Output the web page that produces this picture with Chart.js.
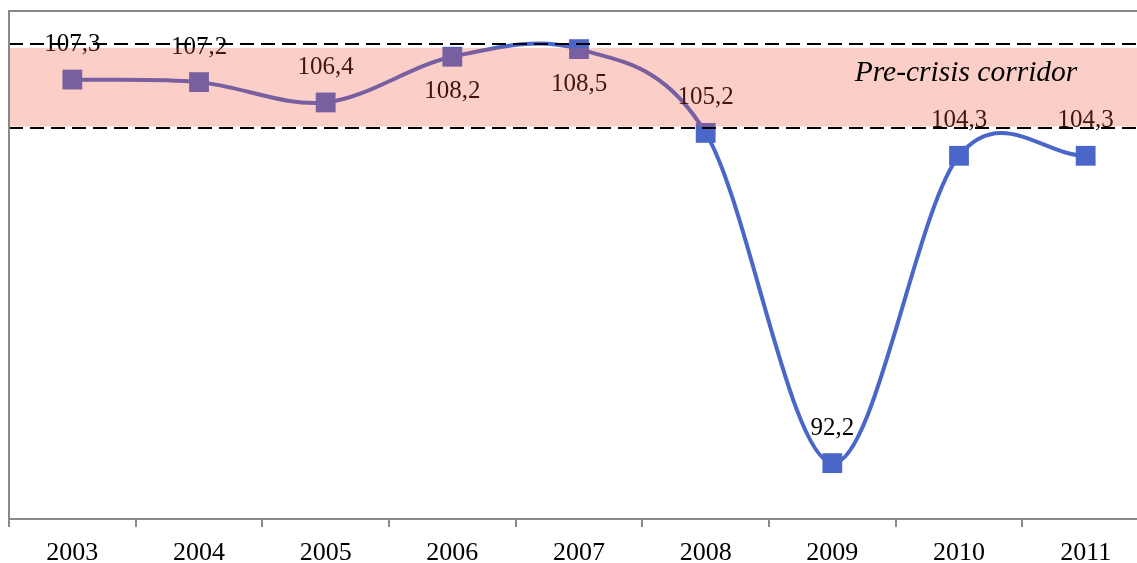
<!DOCTYPE html>
<html>
<head>
<meta charset="utf-8">
<script src="https://cdn.jsdelivr.net/npm/chart.js@4.4.1/dist/chart.umd.min.js"></script>
<style>
  html, body { margin: 0; padding: 0; background: #ffffff; overflow: hidden; width: 1137px; height: 563px; }
  canvas { display: block; }
</style>
</head>
<body>
<canvas id="chart" width="1149" height="579"></canvas>
<script>
// Annual index values, 2003–2011
const years = ['2003', '2004', '2005', '2006', '2007', '2008', '2009', '2010', '2011'];
const indexValues = [107.3, 107.2, 106.4, 108.2, 108.5, 105.2, 92.2, 104.3, 104.3];
// -1 puts a value label above its point, +1 below it
const labelSides = [-1, -1, -1, 1, 1, -1, -1, -1, -1];
// Pre-crisis corridor: shaded band and its two dashed bounds
const corridorBand = [105.45, 108.55];
const corridorBounds = [105.4, 108.72];
const corridorTitle = 'Pre-crisis corridor';

const LINE_BLUE = '#4a66c8';
const FRAME_GREY = '#898989';
const SERIF = '"Liberation Serif", "Times New Roman", serif';

const fmt = v => v.toFixed(1).replace('.', ',');

// Smooth the line with uniform Catmull-Rom tangents (office-style smoothing)
const smoothCurve = {
  id: 'smoothCurve',
  beforeDatasetsDraw(chart) {
    chart.getSortedVisibleDatasetMetas().forEach(meta => {
      if (meta.type !== 'line') return;
      meta.dataset.updateControlPoints(chart.chartArea, 'x');
      const pts = meta.data;
      const n = pts.length;
      for (let i = 0; i < n; i++) {
        const p = pts[i];
        if (i === 0) {
          const q = pts[1];
          p.cp1x = p.x; p.cp1y = p.y;
          p.cp2x = p.x + (q.x - p.x) / 3; p.cp2y = p.y + (q.y - p.y) / 3;
        } else if (i === n - 1) {
          const o = pts[i - 1];
          p.cp1x = p.x - (p.x - o.x) / 3; p.cp1y = p.y - (p.y - o.y) / 3;
          p.cp2x = p.x; p.cp2y = p.y;
        } else {
          const o = pts[i - 1], q = pts[i + 1];
          const dx = (q.x - o.x) / 6, dy = (q.y - o.y) / 6;
          p.cp1x = p.x - dx; p.cp1y = p.y - dy;
          p.cp2x = p.x + dx; p.cp2y = p.y + dy;
        }
      }
    });
  }
};

// Value labels, translucent corridor band, dashed bounds, caption and plot frame
const overlays = {
  id: 'overlays',
  afterDatasetsDraw(chart) {
    const ctx = chart.ctx;
    const area = chart.chartArea;
    const xs = chart.scales.x;
    const ys = chart.scales.y;
    const meta = chart.getDatasetMeta(0);

    ctx.save();
    // value labels
    ctx.font = '25px ' + SERIF;
    ctx.fillStyle = '#000000';
    ctx.textAlign = 'center';
    ctx.textBaseline = 'middle';
    meta.data.forEach((pt, i) => {
      ctx.fillText(fmt(indexValues[i]), pt.x, pt.y + labelSides[i] * 35);
    });

    // corridor band laid over the line
    const bTop = ys.getPixelForValue(corridorBand[1]);
    const bBot = ys.getPixelForValue(corridorBand[0]);
    ctx.fillStyle = 'rgba(240, 78, 52, 0.27)';
    ctx.fillRect(area.left, bTop, area.right - area.left, bBot - bTop);

    // dashed bounds
    ctx.strokeStyle = '#000000';
    ctx.lineWidth = 2;
    ctx.setLineDash([14, 7]);
    corridorBounds.forEach(v => {
      const y = Math.round(ys.getPixelForValue(v));
      ctx.beginPath();
      ctx.moveTo(area.left, y);
      ctx.lineTo(area.right, y);
      ctx.stroke();
    });
    ctx.setLineDash([]);

    // caption
    ctx.font = 'italic 29.5px ' + SERIF;
    ctx.fillStyle = '#000000';
    ctx.fillText(corridorTitle, xs.getPixelForValue(7) + 7, ys.getPixelForValue(107.55));

    // plot frame: top and left edges
    ctx.strokeStyle = FRAME_GREY;
    ctx.lineWidth = 2;
    ctx.beginPath();
    ctx.moveTo(area.left, area.bottom);
    ctx.lineTo(area.left, area.top);
    ctx.lineTo(area.right, area.top);
    ctx.stroke();
    ctx.restore();
  }
};

new Chart(document.getElementById('chart'), {
  type: 'line',
  data: {
    labels: years,
    datasets: [{
      data: indexValues,
      borderColor: LINE_BLUE,
      backgroundColor: LINE_BLUE,
      borderWidth: 4,
      tension: 0.4,
      fill: false,
      pointStyle: 'rect',
      pointRadius: 14,
      pointHoverRadius: 14,
      pointBorderWidth: 0,
      pointBackgroundColor: LINE_BLUE,
      clip: false
    }]
  },
  options: {
    responsive: false,
    animation: false,
    devicePixelRatio: 1,
    layout: { autoPadding: false, padding: { left: 9, top: 11, right: 0, bottom: 0 } },
    plugins: {
      legend: { display: false },
      tooltip: { enabled: false },
      title: { display: false }
    },
    scales: {
      x: {
        type: 'category',
        offset: true,
        border: { display: true, color: FRAME_GREY, width: 2 },
        grid: {
          display: true,
          offset: true,
          drawOnChartArea: false,
          drawTicks: true,
          tickLength: 8,
          color: FRAME_GREY,
          lineWidth: 2
        },
        ticks: {
          color: '#000000',
          padding: 13,
          maxRotation: 0,
          autoSkip: false,
          font: { family: SERIF, size: 26, lineHeight: 1.0 }
        }
      },
      y: {
        display: false,
        min: 90,
        max: 110
      }
    }
  },
  plugins: [smoothCurve, overlays]
});
</script>
</body>
</html>
